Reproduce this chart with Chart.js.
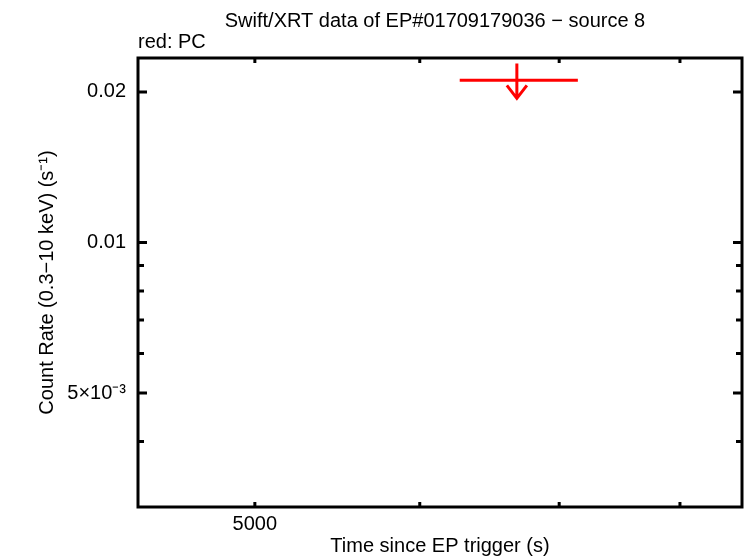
<!DOCTYPE html>
<html>
<head>
<meta charset="utf-8">
<script src="https://cdn.jsdelivr.net/npm/chart.js@4"></script>
<style>
  body { margin: 0; background: #fff; }
  #wrap { width: 746px; height: 558px; }
</style>
</head>
<body>
<div id="wrap"><canvas id="lc" width="746" height="558"></canvas></div>
<script>
// light curve bins (PC mode), upper limit only
const times = [6680];
const timeLo = [6271];
const timeHi = [7146];
const rates = [0.0211];
const upperLimit = [true];

// axis ticks
const xTicks = [5000, 6000, 7000, 8000];
const xLabels = { 5000: "5000" };
const yTicks = [0.004, 0.005, 0.006, 0.007, 0.008, 0.009, 0.01, 0.02];
const yLabels = { 0.005: "5\u00d710\u207b\u00b3", 0.01: "0.01", 0.02: "0.02" };
const yMajor = [0.005, 0.01, 0.02];

const FONT = "Liberation Sans, Arial, Helvetica, sans-serif";
const RED = "#ff0000";

const framePlugin = {
    id: "frame",
    afterDraw(chart) {
        const ctx = chart.ctx;
        const a = chart.chartArea;
        const xs = chart.scales.x;
        const ys = chart.scales.y;
        ctx.save();

        // error bars + upper limit arrows
        ctx.strokeStyle = RED;
        ctx.lineWidth = 3;
        times.forEach((t, i) => {
            const cx = xs.getPixelForValue(t);
            const cy = ys.getPixelForValue(rates[i]);
            ctx.beginPath();
            ctx.moveTo(xs.getPixelForValue(timeLo[i]), cy);
            ctx.lineTo(xs.getPixelForValue(timeHi[i]), cy);
            ctx.stroke();
            if (upperLimit[i]) {
                const top = ys.getPixelForValue(rates[i] * 1.08);
                const tip = ys.getPixelForValue(rates[i] * 0.92);
                ctx.beginPath();
                ctx.moveTo(cx, top);
                ctx.lineTo(cx, tip);
                ctx.moveTo(cx - 10, tip - 13);
                ctx.lineTo(cx, tip);
                ctx.lineTo(cx + 10, tip - 13);
                ctx.stroke();
            }
        });

        // frame
        ctx.strokeStyle = "#000";
        ctx.lineWidth = 3;
        ctx.strokeRect(a.left, a.top, a.right - a.left, a.bottom - a.top);

        // inward ticks on all sides
        ctx.beginPath();
        xTicks.forEach((v) => {
            const px = xs.getPixelForValue(v);
            ctx.moveTo(px, a.bottom);
            ctx.lineTo(px, a.bottom - 5);
            ctx.moveTo(px, a.top);
            ctx.lineTo(px, a.top + 5);
        });
        yTicks.forEach((v) => {
            const py = ys.getPixelForValue(v);
            const len = yMajor.includes(v) ? 9 : 6;
            ctx.moveTo(a.left, py);
            ctx.lineTo(a.left + len, py);
            ctx.moveTo(a.right, py);
            ctx.lineTo(a.right - len, py);
        });
        ctx.stroke();

        // title and mode note
        ctx.fillStyle = "#000";
        ctx.font = "20px " + FONT;
        ctx.textBaseline = "middle";
        ctx.textAlign = "center";
        ctx.fillText("Swift/XRT data of EP#01709179036 \u2212 source 8", (a.left + a.right) / 2 - 5, 21);
        ctx.textAlign = "left";
        ctx.fillText("red: PC", a.left, 42);
        ctx.restore();
    },
};

const lc = new Chart(document.getElementById("lc"), {
    type: "scatter",
    data: {
        datasets: [
            {
                label: "PC",
                data: times.map((t, i) => ({ x: t, y: rates[i] })),
                pointRadius: 0,
                borderColor: RED,
                backgroundColor: RED,
            },
        ],
    },
    options: {
        responsive: false,
        animation: false,
        layout: { padding: { top: 58, right: 4, left: 28, bottom: 0 } },
        plugins: { legend: { display: false }, tooltip: { enabled: false } },
        scales: {
            x: {
                type: "logarithmic",
                min: 4394,
                max: 8568,
                grid: { display: false, drawTicks: false },
                border: { display: false },
                afterBuildTicks: (s) => { s.ticks = xTicks.map((v) => ({ value: v })); },
                afterFit: (s) => { s.height = 51; },
                ticks: {
                    autoSkip: false,
                    maxRotation: 0,
                    padding: 5,
                    color: "#000",
                    font: { family: FONT, size: 20 },
                    callback: (v) => xLabels[v] || "",
                },
                title: {
                    display: true,
                    text: "Time since EP trigger (s)",
                    color: "#000",
                    font: { family: FONT, size: 20 },
                    padding: 0,
                },
            },
            y: {
                type: "logarithmic",
                min: 0.00296,
                max: 0.02338,
                grid: { display: false, drawTicks: false },
                border: { display: false },
                afterBuildTicks: (s) => { s.ticks = yTicks.map((v) => ({ value: v })); },
                afterFit: (s) => { s.width = 110; },
                ticks: {
                    autoSkip: false,
                    padding: 12,
                    color: "#000",
                    font: { family: FONT, size: 20 },
                    callback: (v) => yLabels[v] || "",
                },
                title: {
                    display: true,
                    text: "Count Rate (0.3\u221210 keV) (s\u207b\u00b9)",
                    color: "#000",
                    font: { family: FONT, size: 20 },
                    padding: { top: 7, bottom: 0 },
                },
            },
        },
    },
    plugins: [framePlugin],
});
</script>
</body>
</html>
